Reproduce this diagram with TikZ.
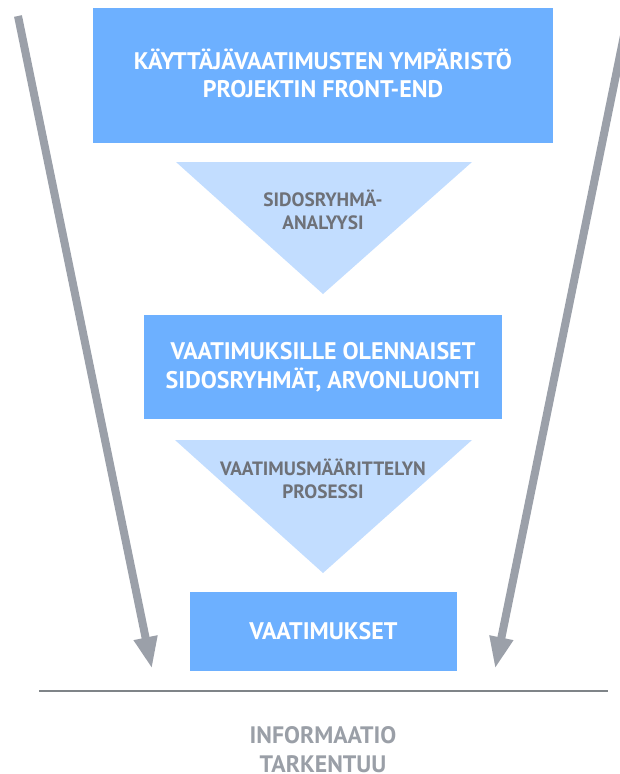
\documentclass[tikz,border=0pt]{standalone}
\usepackage{fontspec}
\setmainfont{PT Sans}
\usetikzlibrary{arrows.meta}
\definecolor{boxblue}{HTML}{6DB0FF}
\definecolor{triblue}{HTML}{C2DDFF}
\definecolor{tritext}{HTML}{6E7178}
\definecolor{arrowgray}{HTML}{9BA0A9}
\definecolor{rulegray}{HTML}{7F8488}
\definecolor{notegray}{HTML}{9A9FA7}
\tikzset{
  stagebox/.style={fill=boxblue, draw=none, text=white, align=center,
    font=\bfseries\fontsize{24}{28.5}\selectfont, inner sep=0pt},
  stagelabel/.style={text=white, align=center,
    font=\bfseries\fontsize{24}{28.5}\selectfont, inner sep=0pt},
  funneltext/.style={text=tritext, align=center,
    font=\bfseries\fontsize{19.3}{22.5}\selectfont, inner sep=0pt},
  funnel/.style={fill=triblue, draw=none},
  sidearrow/.style={draw=arrowgray, line width=8pt,
    -{Triangle[length=32pt,width=22pt]}},
  notetext/.style={text=notegray, align=center,
    font=\bfseries\fontsize{23.8}{29}\selectfont, inner sep=0pt}
}
\begin{document}
\begin{tikzpicture}[x=1pt,y=-1pt]
  \useasboundingbox (0,0) rectangle (620,774);
  \clip (0,0) rectangle (620,774);

  % stage boxes
  \node[stagebox, minimum width=460pt, minimum height=135pt] (env) at (323,75.5) {};
  \node[stagelabel] (envtext) at (323,73.5)
    {KÄYTTÄJÄVAATIMUSTEN YMPÄRISTÖ\\PROJEKTIN FRONT-END};
  \node[stagebox, minimum width=358pt, minimum height=104pt] (stake) at (323,367)
    {VAATIMUKSILLE OLENNAISET\\SIDOSRYHMÄT, ARVONLUONTI};
  \node[stagebox, minimum width=267pt, minimum height=79pt] (req) at (323.5,631.5)
    {VAATIMUKSET};

  % funnel triangles between stages
  \fill[funnel] (176,162) -- (472,162) -- (323,294) -- cycle;
  \node[funneltext] (analysis) at (323,210) {SIDOSRYHMÄ-\\ANALYYSI};
  \fill[funnel] (175,440) -- (472,440) -- (323,573) -- cycle;
  \node[funneltext] (process) at (323,479) {VAATIMUSMÄÄRITTELYN\\PROSESSI};

  % narrowing arrows on both sides
  \coordinate (lstart) at (18,16);
  \coordinate (ltip) at (152,669);
  \coordinate (rstart) at (628,16);
  \coordinate (rtip) at (495,669);
  \draw[sidearrow] (lstart) -- (ltip);
  \draw[sidearrow] (rstart) -- (rtip);

  % base rule and caption
  \coordinate (rulel) at (39,691);
  \coordinate (ruler) at (608,691);
  \draw[rulegray, line width=1.5pt] (rulel) -- (ruler);
  \node[notetext] (info) at (323,750) {INFORMAATIO\\TARKENTUU};
\end{tikzpicture}
\end{document}
